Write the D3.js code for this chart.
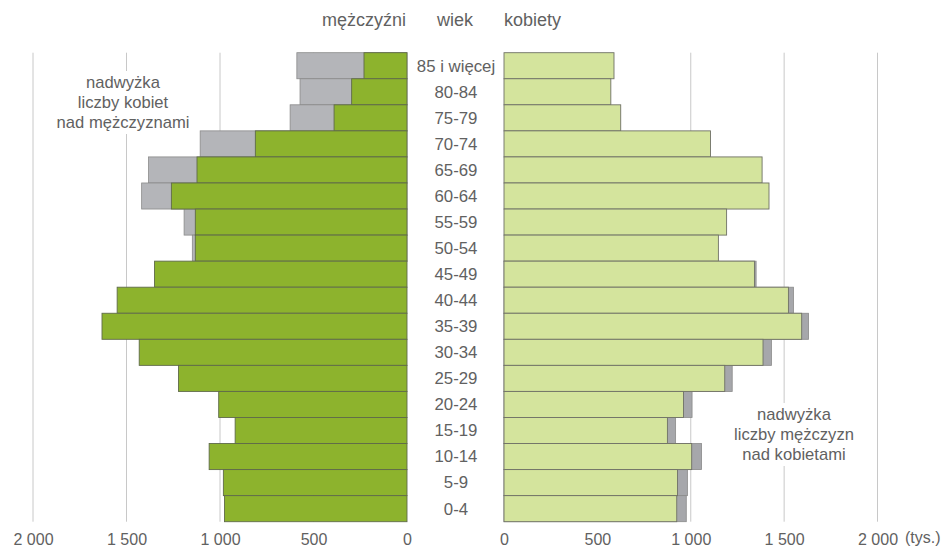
<!doctype html>
<html>
<head>
<meta charset="utf-8" />
<title>Piramida wieku</title>
<style>
  html,body{margin:0;background:#fff}
  svg{display:block;font-family:"Liberation Sans", Arial, sans-serif}
  .lbl{fill:#616161}
</style>
</head>
<body>
<svg id="chart" width="945" height="548"></svg>
<script src="https://cdn.jsdelivr.net/npm/d3@7"></script>
<script>
// age groups, top to bottom
const ages = ['85 i więcej','80-84','75-79','70-74','65-69','60-64','55-59','50-54',
              '45-49','40-44','35-39','30-34','25-29','20-24','15-19','10-14','5-9','0-4'];
// thousands
const men   = [230, 296, 390, 811, 1123, 1260, 1132, 1132,
               1350, 1550, 1631, 1432, 1222, 1007, 919, 1058, 982, 976];
const women = [589, 572, 625, 1106, 1382, 1419, 1192, 1148,
               1341, 1523, 1594, 1387, 1182, 961, 875, 1005, 929, 925];
const ticks = [0, 500, 1000, 1500, 2000];
const tickLabels = ['0', '500', '1 000', '1 500', '2 000'];

const svg = d3.select('#chart');

const xL = d3.scaleLinear().domain([0, 2000]).range([407, 33]);
const xR = d3.scaleLinear().domain([0, 2000]).range([504, 877.5]);
const y  = d3.scaleBand().domain(ages).range([52.7, 521.7]).padding(0);

const yTop = y.range()[0], yBot = y.range()[1];

/* gridlines */
const grid = svg.append('g').attr('stroke', '#c8c8c8').attr('stroke-width', 1);
ticks.filter(t => t > 0).forEach(t => {
  grid.append('line').attr('x1', xL(t)).attr('x2', xL(t)).attr('y1', yTop).attr('y2', yBot);
  grid.append('line').attr('x1', xR(t)).attr('x2', xR(t)).attr('y1', yTop).attr('y2', yBot);
});

const idx = d3.range(ages.length);

/* left: grey excess of women, then men */
svg.append('g').selectAll('rect')
  .data(idx.filter(i => women[i] > men[i]))
  .join('rect')
  .attr('x', i => xL(women[i])).attr('y', i => y(ages[i]))
  .attr('width', i => xL(0) - xL(women[i])).attr('height', y.bandwidth())
  .attr('fill', '#b4b5b9').attr('stroke', '#8a8a8a').attr('stroke-width', 0.8);

svg.append('g').selectAll('rect')
  .data(idx)
  .join('rect')
  .attr('x', i => xL(men[i])).attr('y', i => y(ages[i]))
  .attr('width', i => xL(0) - xL(men[i])).attr('height', y.bandwidth())
  .attr('fill', '#8db32d').attr('stroke', '#5f6a4a').attr('stroke-width', 0.9);

/* right: grey excess of men, then women */
svg.append('g').selectAll('rect')
  .data(idx.filter(i => men[i] > women[i]))
  .join('rect')
  .attr('x', xR(0)).attr('y', i => y(ages[i]))
  .attr('width', i => xR(men[i]) - xR(0)).attr('height', y.bandwidth())
  .attr('fill', '#a6a7ab').attr('stroke', '#8a8a8a').attr('stroke-width', 0.8);

svg.append('g').selectAll('rect')
  .data(idx)
  .join('rect')
  .attr('x', xR(0)).attr('y', i => y(ages[i]))
  .attr('width', i => xR(women[i]) - xR(0)).attr('height', y.bandwidth())
  .attr('fill', '#d4e49d').attr('stroke', '#6f7166').attr('stroke-width', 0.9);

/* age labels */
svg.append('g').selectAll('text')
  .data(ages)
  .join('text')
  .attr('class', 'lbl')
  .attr('x', 456).attr('y', d => y(d) + y.bandwidth() / 2)
  .attr('dy', '0.35em').attr('text-anchor', 'middle')
  .attr('font-size', 16.8)
  .text(d => d);

/* bottom axes */
const axL = d3.axisBottom(xL).tickValues(ticks).tickSize(0)
  .tickFormat((d, i) => tickLabels[i]);
const axR = d3.axisBottom(xR).tickValues(ticks).tickSize(0)
  .tickFormat((d, i) => tickLabels[i]);
[axL, axR].forEach(ax => {
  const g = svg.append('g').attr('transform', 'translate(0,531)').call(ax);
  g.select('.domain').remove();
  g.selectAll('text').attr('fill', '#616161').attr('font-size', 16)
    .attr('font-family', '"Liberation Sans", Arial, sans-serif').attr('dy', '0.71em');
});
svg.append('text').attr('class', 'lbl').attr('x', 905).attr('y', 542.5)
  .attr('font-size', 16).text('(tys.)');

/* headers */
svg.append('text').attr('class', 'lbl').attr('x', 406).attr('y', 26)
  .attr('text-anchor', 'end').attr('font-size', 18).text('mężczyźni');
svg.append('text').attr('class', 'lbl').attr('x', 455).attr('y', 26)
  .attr('text-anchor', 'middle').attr('font-size', 18).text('wiek');
svg.append('text').attr('class', 'lbl').attr('x', 504).attr('y', 26)
  .attr('text-anchor', 'start').attr('font-size', 18).text('kobiety');

/* annotations with white backdrop over the gridlines */
function note(cx, y0, lines) {
  const g = svg.append('g');
  const bg = g.append('rect').attr('fill', '#fff');
  const t = g.append('g');
  lines.forEach((s, i) => {
    t.append('text').attr('class', 'lbl').attr('x', cx).attr('y', y0 + i * 20)
      .attr('text-anchor', 'middle').attr('font-size', 16.6).text(s);
  });
  const bb = t.node().getBBox();
  bg.attr('x', bb.x - 2).attr('y', bb.y - 2).attr('width', bb.width + 4).attr('height', bb.height + 4);
}
note(123, 88, ['nadwyżka', 'liczby kobiet', 'nad mężczyznami']);
note(794, 420, ['nadwyżka', 'liczby mężczyzn', 'nad kobietami']);
</script>
</body>
</html>
